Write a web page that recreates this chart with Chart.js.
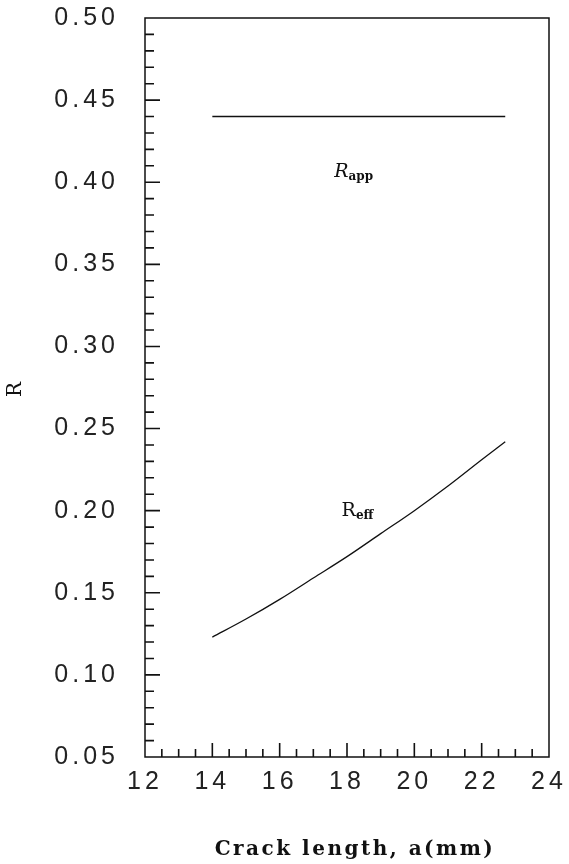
<!DOCTYPE html>
<html>
<head>
<meta charset="utf-8">
<script src="https://cdn.jsdelivr.net/npm/chart.js@4.4.1/dist/chart.umd.min.js"></script>
<style>
  html, body { margin: 0; padding: 0; background: #fff; }
  #wrap { width: 569px; height: 864px; position: relative; }
</style>
</head>
<body>
<div id="wrap"><canvas id="chart"></canvas></div>
<script>
// ── DATA ─────────────────────────────────────────

// crack length a (mm)
const A_APP  = [14, 22.7];
const R_APP  = [0.44, 0.44];

const A_EFF  = [14, 15, 16, 17, 18, 19, 20, 21, 22, 22.7];
const R_EFF  = [0.123, 0.134, 0.146, 0.159, 0.172, 0.186, 0.200, 0.215, 0.231, 0.242];

const X_RANGE = [12, 24];
const Y_RANGE = [0.05, 0.50];
const X_MINOR = [12.5, 13, 13.5, 14.5, 15, 15.5, 16.5, 17, 17.5, 18.5, 19, 19.5,
                 20.5, 21, 21.5, 22.5, 23, 23.5];
const X_MAJOR = [14, 16, 18, 20, 22];
const Y_MAJOR = [0.10, 0.15, 0.20, 0.25, 0.30, 0.35, 0.40, 0.45];

const X_TITLE = "Crack length, a(mm)";

// curve labels: text, subscript, anchor in data units
const CURVE_LABELS = [
  { main: "R", sub: "app", x: 17.62, y: 0.403, italic: true },
  { main: "R", sub: "eff", x: 17.84, y: 0.197, italic: false },
];

function yMinor() {
  const out = [];
  for (let i = 6; i < 50; i++) {
    if (i % 5 !== 0) out.push(i / 100);
  }
  return out;
}

// ── PLUGINS ──────────────────────────────────────

const spacing = {
  id: "spacing",
  beforeDraw(chart) { chart.ctx.letterSpacing = "4px"; },
};

const frame = {
  id: "frame",
  afterDraw(chart) {
    const { ctx, chartArea: ca, scales } = chart;
    const xs = scales.x, ys = scales.y;
    ctx.save();
    ctx.letterSpacing = "0px";
    ctx.strokeStyle = "#111";
    ctx.lineWidth = 1.5;
    ctx.beginPath();
    ctx.rect(ca.left, ca.top, ca.right - ca.left, ca.bottom - ca.top);
    ctx.stroke();

    // inward tick marks
    ctx.lineWidth = 1.6;
    ctx.beginPath();
    yMinor().forEach(v => {
      const p = ys.getPixelForValue(v);
      ctx.moveTo(ca.left, p); ctx.lineTo(ca.left + 9, p);
    });
    Y_MAJOR.forEach(v => {
      const p = ys.getPixelForValue(v);
      ctx.moveTo(ca.left, p); ctx.lineTo(ca.left + 15, p);
    });
    X_MINOR.forEach(v => {
      const p = xs.getPixelForValue(v);
      ctx.moveTo(p, ca.bottom); ctx.lineTo(p, ca.bottom - 8);
    });
    X_MAJOR.forEach(v => {
      const p = xs.getPixelForValue(v);
      ctx.moveTo(p, ca.bottom); ctx.lineTo(p, ca.bottom - 14);
    });
    ctx.stroke();

    // curve labels
    ctx.fillStyle = "#111";
    ctx.textBaseline = "alphabetic";
    ctx.textAlign = "left";
    CURVE_LABELS.forEach(l => {
      const px = xs.getPixelForValue(l.x);
      const py = ys.getPixelForValue(l.y);
      ctx.font = (l.italic ? "italic " : "") + "19px 'DejaVu Serif'";
      ctx.fillText(l.main, px, py);
      const w = ctx.measureText(l.main).width;
      ctx.font = "bold 12px 'DejaVu Serif'";
      ctx.fillText(l.sub, px + w, py + 3);
    });

    // x axis title
    ctx.letterSpacing = "2.5px";
    ctx.font = "bold 20px 'DejaVu Serif'";
    ctx.textAlign = "center";
    ctx.textBaseline = "middle";
    ctx.fillText(X_TITLE, 355, 850);
    ctx.restore();
  },
};

// ── CHART ────────────────────────────────────────

const pts = (xs, ys) => xs.map((x, i) => ({ x, y: ys[i] }));

new Chart(document.getElementById("chart"), {
  type: "line",
  data: {
    datasets: [
      { data: pts(A_APP, R_APP), borderColor: "#111", borderWidth: 1.6,
        pointRadius: 0, tension: 0 },
      { data: pts(A_EFF, R_EFF), borderColor: "#111", borderWidth: 1.3,
        pointRadius: 0, cubicInterpolationMode: "monotone" },
    ],
  },
  options: {
    responsive: true,
    maintainAspectRatio: false,
    animation: false,
    layout: { padding: { top: 18, right: 20, left: 0, bottom: 0 } },
    plugins: { legend: { display: false }, tooltip: { enabled: false } },
    scales: {
      x: {
        type: "linear",
        min: X_RANGE[0], max: X_RANGE[1],
        afterFit: s => { s.height = 107; s.paddingLeft = 0; s.paddingRight = 0; },
        grid: { display: false, drawTicks: false },
        border: { display: false },
        ticks: {
          stepSize: 2, padding: 10, color: "#222",
          font: { family: "'Liberation Sans'", size: 25 },
        },
      },
      y: {
        type: "linear",
        min: Y_RANGE[0], max: Y_RANGE[1],
        afterFit: s => { s.width = 145; s.paddingTop = 0; s.paddingBottom = 0; },
        grid: { display: false, drawTicks: false },
        border: { display: false },
        ticks: {
          stepSize: 0.05, padding: 26, color: "#222",
          font: { family: "'Liberation Sans'", size: 25 },
          callback: v => v.toFixed(2),
        },
        title: {
          display: true, text: "R", color: "#111",
          font: { family: "'DejaVu Serif'", size: 20 },
          padding: { top: 4, bottom: 0 },
        },
      },
    },
  },
  plugins: [spacing, frame],
});
</script>
</body>
</html>
